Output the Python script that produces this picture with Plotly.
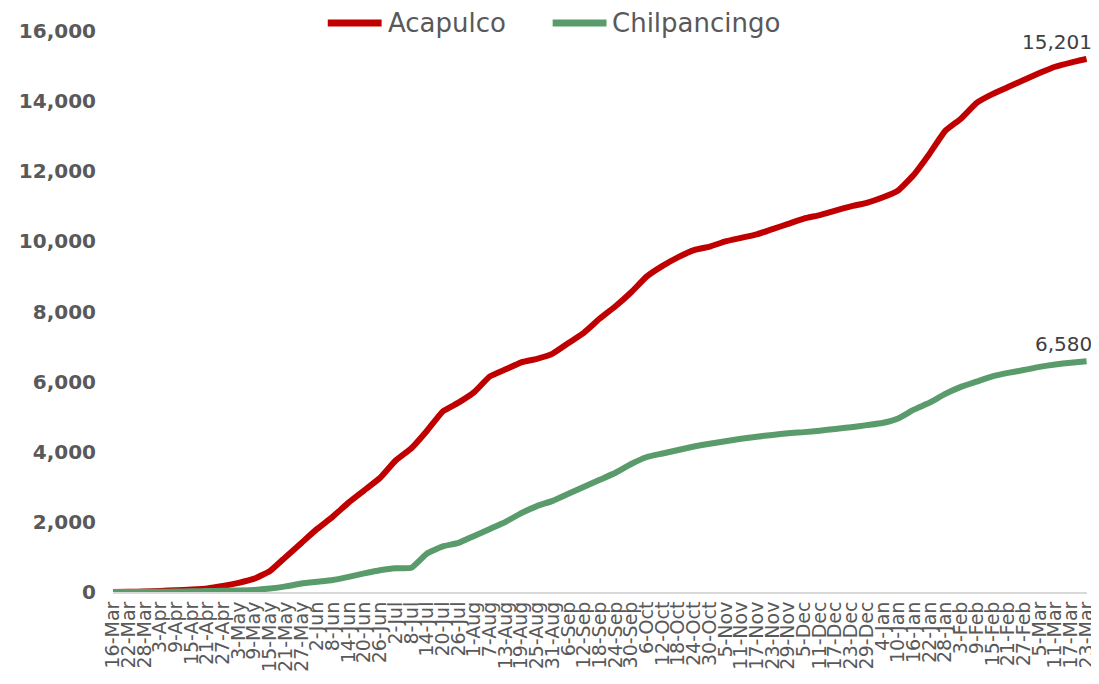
import plotly.graph_objects as go
import pandas as pd

tick_labels = ["16-Mar","22-Mar","28-Mar","3-Apr","9-Apr","15-Apr","21-Apr","27-Apr","3-May","9-May",
               "15-May","21-May","27-May","2-Jun","8-Jun","14-Jun","20-Jun","26-Jun","2-Jul","8-Jul",
               "14-Jul","20-Jul","26-Jul","1-Aug","7-Aug","13-Aug","19-Aug","25-Aug","31-Aug","6-Sep",
               "12-Sep","18-Sep","24-Sep","30-Sep","6-Oct","12-Oct","18-Oct","24-Oct","30-Oct","5-Nov",
               "11-Nov","17-Nov","23-Nov","29-Nov","5-Dec","11-Dec","17-Dec","23-Dec","29-Dec","4-Jan",
               "10-Jan","16-Jan","22-Jan","28-Jan","3-Feb","9-Feb","15-Feb","21-Feb","27-Feb","5-Mar",
               "11-Mar","17-Mar","23-Mar"]

dates = pd.date_range("2020-03-16", "2021-03-23", freq="6D")

acapulco = [0, 5, 15, 30, 50, 70, 100, 170, 260, 380,
            600, 1000, 1400, 1800, 2150, 2550, 2900, 3250, 3750, 4100,
            4600, 5150, 5400, 5700, 6150, 6350, 6550, 6650, 6800, 7100,
            7400, 7800, 8150, 8550, 9000, 9300, 9550, 9750, 9850, 10000,
            10100, 10200, 10350, 10500, 10650, 10750, 10880, 11000, 11100, 11250,
            11450, 11900, 12500, 13150, 13500, 13950, 14200, 14400, 14600, 14800,
            14980, 15100, 15201]

chilpancingo = [0, 2, 5, 8, 12, 18, 25, 35, 45, 60,
                100, 160, 240, 290, 340, 430, 530, 620, 680, 690,
                1100, 1300, 1400, 1600, 1800, 2000, 2250, 2450, 2600, 2800,
                3000, 3200, 3400, 3650, 3850, 3950, 4050, 4150, 4230, 4300,
                4370, 4430, 4480, 4530, 4560, 4600, 4650, 4700, 4760, 4820,
                4950, 5200, 5400, 5650, 5850, 6000, 6150, 6250, 6330, 6420,
                6490, 6540, 6580]

series_names = ["Acapulco", "Chilpancingo"]

RED = "#C00000"
GREEN = "#5A9B6B"
GRAY = "#595959"
FONT = "DejaVu Sans"

fig = go.Figure()
for name, vals, col in [(series_names[0], acapulco, RED), (series_names[1], chilpancingo, GREEN)]:
    fig.add_trace(go.Scatter(x=dates, y=vals, mode="lines", name=name, showlegend=False,
                             line=dict(color=col, width=6, shape="spline", smoothing=0.4)))
    fig.add_annotation(x=dates[-1], y=vals[-1], text=f"{vals[-1]:,}", showarrow=False,
                       xanchor="right", yanchor="bottom", yshift=3, xshift=7,
                       font=dict(family=FONT, size=20, color="#404040"))

# manual legend (long line swatches like the reference)
legend_items = [(series_names[0], RED, 0.2205, 0.2758, 0.2799),
                (series_names[1], GREEN, 0.4514, 0.5067, 0.5098)]
for name, col, x0, x1, xt in legend_items:
    fig.add_shape(type="line", xref="paper", yref="paper", x0=x0, x1=x1, y0=1.0143, y1=1.0143,
                  line=dict(color=col, width=7))
    fig.add_annotation(xref="paper", yref="paper", x=xt, y=1.0143, text=name, showarrow=False,
                       xanchor="left", yanchor="middle",
                       font=dict(family=FONT, size=26, color=GRAY))

x_end = dates[-1] + pd.Timedelta(hours=4)

fig.update_layout(
    width=1091, height=676,
    margin=dict(l=105, r=12, t=23, b=92, autoexpand=False),
    plot_bgcolor="white", paper_bgcolor="white",
    showlegend=False,
    xaxis=dict(range=[dates[0], x_end], tickvals=list(dates), ticktext=tick_labels,
               tickangle=-90, tickfont=dict(family=FONT, size=19, color=GRAY),
               ticklabeloverflow="allow",
               showgrid=False, showline=True, linecolor="#D9D9D9", linewidth=2,
               ticks="", zeroline=False),
    yaxis=dict(range=[0, 16000], tickvals=list(range(0, 16001, 2000)), tickformat=",d",
               tickfont=dict(family=FONT, size=20, color=GRAY, weight="bold"),
               showgrid=False, zeroline=False, showline=False, ticks="", ticklabelstandoff=16),
)

fig.write_html("out.html")
